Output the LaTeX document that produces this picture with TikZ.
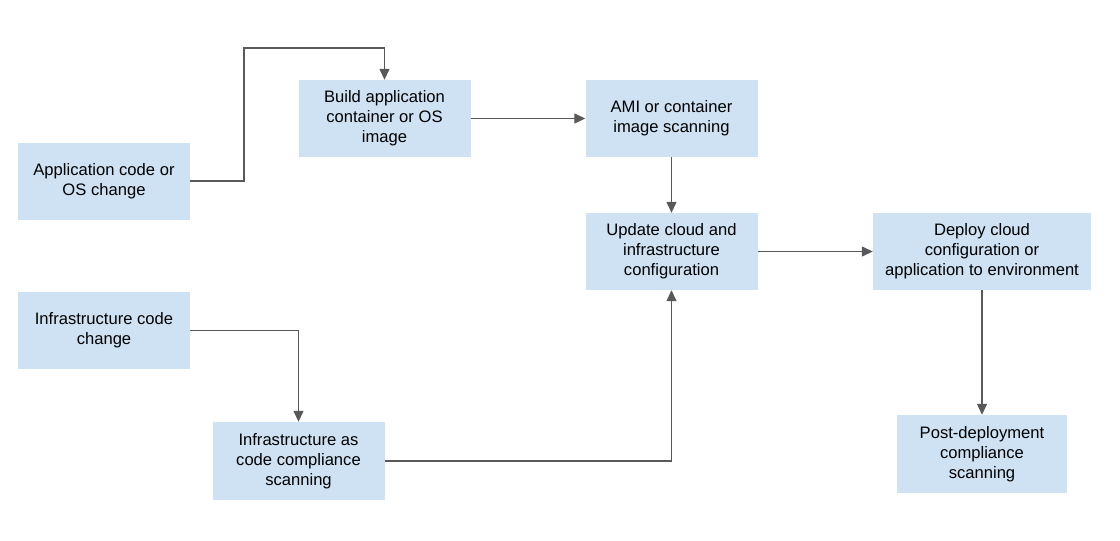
\documentclass[tikz,border=0pt]{standalone}
\usepackage{xcolor}
\usepackage{fontspec}
\setmainfont{Liberation Sans}
\usepackage{tikz}
\usetikzlibrary{positioning,arrows.meta}

\definecolor{boxblue}{HTML}{CFE2F3}
\definecolor{linegray}{HTML}{595959}

\begin{document}
\begin{tikzpicture}[x=1pt, y=-1pt, node distance=133pt,
    >={Triangle[length=11pt,width=10pt]},
    stepbox/.style={rectangle, fill=boxblue, minimum width=172pt, minimum height=77pt, inner sep=0pt, align=center, font=\fontsize{16.6}{20}\selectfont, execute at begin node={\rule{0pt}{16pt}}},
    flow/.style={->, draw=linegray, line width=1.3pt}]
    \useasboundingbox (0,0) rectangle (1120,541);
    \node [stepbox] (appchange) at (104,181) {Application code or\\OS change};
    \node [stepbox] (build) at (384.5,118.5) {Build application\\container or OS\\image};
    \node [stepbox] (amiscan) at (671.5,118.5) {AMI or container\\image scanning};
    \node [stepbox, below of=amiscan] (update) {Update cloud and\\infrastructure\\configuration};
    \node [stepbox, minimum width=218pt] (deploy) at (982,251.5) {Deploy cloud\\configuration or\\application to environment};
    \node [stepbox] (infrachange) at (104,330.5) {Infrastructure code\\change};
    \node [stepbox, minimum height=78pt] (iacscan) at (298.5,461) {Infrastructure as\\code compliance\\scanning};
    \node [stepbox, minimum width=170pt, minimum height=78pt] (postscan) at (982,454) {Post-deployment\\compliance\\scanning};

    \draw [flow] (appchange.east) -- (244,181) -- (244,48) -- (build.north |- 0,48) -- (build.north);
    \draw [flow] (build) -- (amiscan);
    \draw [flow] (amiscan) -- (update);
    \draw [flow] (update) -- (deploy);
    \draw [flow] (deploy) -- (postscan);
    \draw [flow] (infrachange.east) -| (iacscan.north);
    \draw [flow] (iacscan.east) -| (update.south);
\end{tikzpicture}
\end{document}
